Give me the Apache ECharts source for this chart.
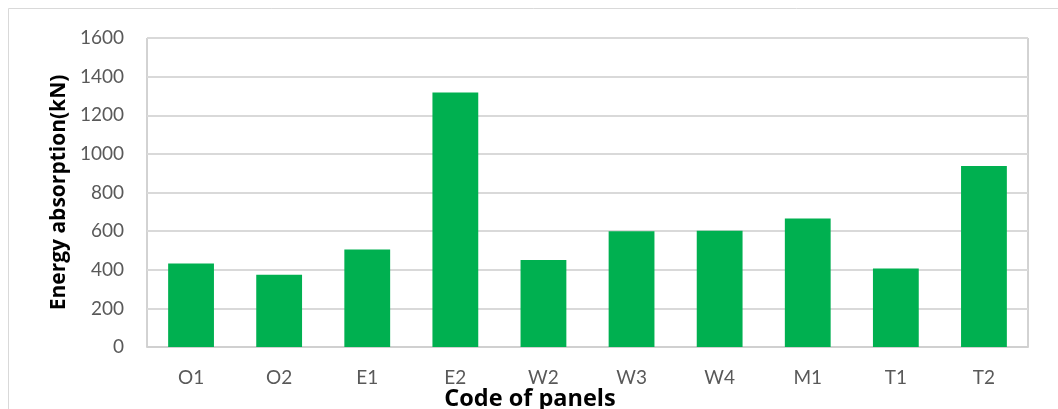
<!DOCTYPE html>
<html>
<head>
<meta charset="utf-8">
<script src="https://cdn.jsdelivr.net/npm/echarts@6/dist/echarts.min.js"></script>
<style>
  html, body { margin: 0; padding: 0; background: #fff; }
  #chart { width: 1058px; height: 409px; }
</style>
</head>
<body>
<div id="chart"></div>
<script>
// Panel codes and their measured energy absorption
const panelCodes = ['O1', 'O2', 'E1', 'E2', 'W2', 'W3', 'W4', 'M1', 'T1', 'T2'];
const energyAbsorption = [433, 374, 505, 1318, 450, 599, 602, 666, 407, 937];
const yAxisMax = 1600;
const yAxisStep = 200;

const chart = echarts.init(document.getElementById('chart'), null, { renderer: 'canvas' });

const labelFont = 'Lato, "Open Sans", sans-serif';
const titleFont = '"Open Sans", Lato, sans-serif';

chart.setOption({
  animation: false,
  backgroundColor: '#ffffff',
  graphic: [
    {
      // outer chart-area frame
      type: 'rect',
      silent: true,
      shape: { x: 8.5, y: 8.5, width: 1200, height: 600 },
      style: { fill: 'none', stroke: '#d9d9d9', lineWidth: 1 }
    },
    {
      type: 'text',
      x: 530,
      y: 399,
      style: {
        text: 'Code of panels',
        font: 'bold 23.5px ' + titleFont,
        fill: '#000000',
        align: 'center',
        verticalAlign: 'middle'
      }
    }
  ],
  grid: {
    left: 147,
    top: 38,
    right: 1058 - 1028,
    bottom: 409 - 347,
    show: true,
    borderColor: '#a6a6a6',
    borderWidth: 1,
    backgroundColor: 'transparent'
  },
  xAxis: {
    type: 'category',
    data: panelCodes,
    axisTick: { show: false },
    axisLine: { show: true, lineStyle: { color: '#d0d0d0', width: 2 } },
    axisLabel: {
      color: '#595959',
      fontFamily: labelFont,
      fontSize: 19,
      margin: 21
    }
  },
  yAxis: {
    type: 'value',
    min: 0,
    max: yAxisMax,
    interval: yAxisStep,
    name: 'Energy absorption(kN)',
    nameLocation: 'middle',
    nameGap: 70,
    nameRotate: 90,
    nameTextStyle: {
      color: '#000000',
      fontFamily: titleFont,
      fontWeight: 'bold',
      fontSize: 21
    },
    axisLine: { show: false },
    axisTick: { show: false },
    axisLabel: {
      color: '#595959',
      fontFamily: labelFont,
      fontSize: 19,
      margin: 23,
      formatter: (v) => String(v)
    },
    splitLine: { lineStyle: { color: '#d9d9d9', width: 2 } }
  },
  series: [
    {
      type: 'bar',
      data: energyAbsorption,
      barWidth: '52%',
      itemStyle: { color: '#00b050' }
    }
  ]
});
</script>
</body>
</html>
